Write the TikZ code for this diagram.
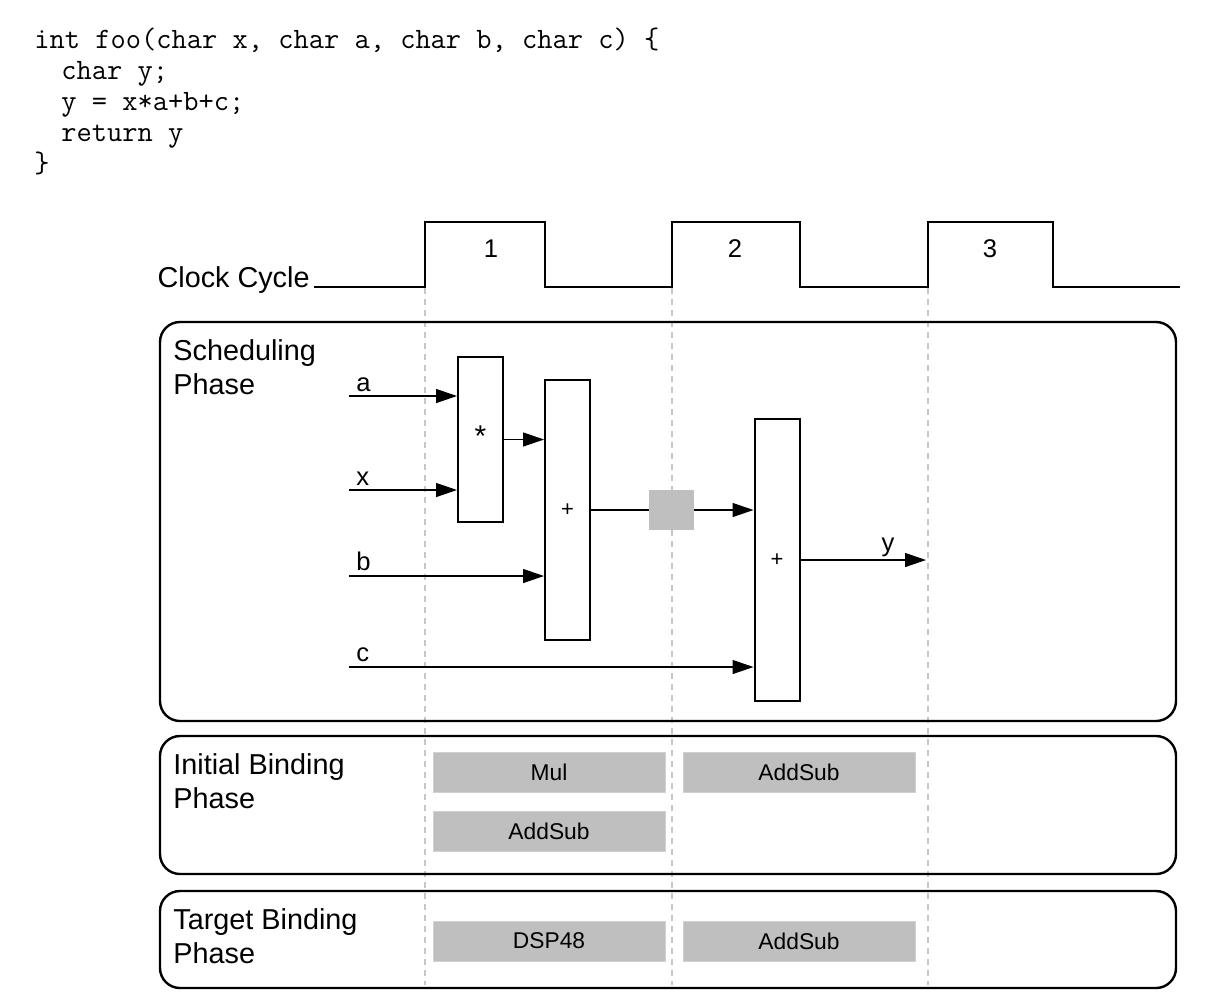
\documentclass[tikz,border=0pt]{standalone}
\usepackage{fontspec}
\setmainfont{Liberation Sans}
\usetikzlibrary{arrows.meta}
\begin{document}
\begin{tikzpicture}[x=0.5pt,y=-0.5pt,
  clk/.style={line width=1pt, line join=miter},
  guide/.style={draw=black!22, line width=0.6pt, dash pattern=on 3pt off 2.5pt},
  frame/.style={draw, line width=1.2pt, rounded corners=10pt, inner sep=0pt},
  opbox/.style={draw, line width=1pt, fill=white, minimum width=22.5pt, inner sep=0pt, font=\fontsize{11}{13}\selectfont},
  regbox/.style={fill=black!25, minimum width=22.5pt, minimum height=20pt, inner sep=0pt},
  resbox/.style={fill=black!25, draw=black!18, line width=0.4pt, minimum width=116pt, minimum height=20pt, inner sep=0pt, font=\fontsize{11.4}{13}\selectfont},
  sig/.style={line width=0.65pt, -{Triangle[length=10.5pt,width=7pt]}},
  lbl/.style={font=\fontsize{12.8}{15}\selectfont, inner sep=0pt},
  phase/.style={anchor=north west, align=left, inner sep=0pt, font=\fontsize{14.4}{17}\selectfont},
  codeline/.style={anchor=base west, inner sep=0pt, font=\ttfamily\fontsize{14.8}{17}\selectfont}
]
\useasboundingbox (0,0) rectangle (1219,992);

% code
\node[codeline] (c1) at (34,48) {int foo(char x, char a, char b, char c) \{};
\node[codeline] (c2) at (61,79) {char y;};
\node[codeline] (c3) at (61,110) {y = x*a+b+c;};
\node[codeline] (c4) at (61,141) {return y};
\node[codeline] (c5) at (34,172) {\}};

% clock
\node[anchor=base east, inner sep=0pt, font=\fontsize{14.4}{17}\selectfont] (ccl) at (310,287) {Clock Cycle};
\coordinate (ck0) at (314,287);
\draw[clk] (ck0) -- (425,287) -- (425,222) -- (545,222) -- (545,287)
  -- (672,287) -- (672,222) -- (800,222) -- (800,287)
  -- (928,287) -- (928,222) -- (1053,222) -- (1053,287) -- (1180,287);
\node[lbl] (n1) at (491,249) {1};
\node[lbl] (n2) at (735,249) {2};
\node[lbl] (n3) at (990,249) {3};

% guides
\foreach \gx in {425,672,928}
  \draw[guide] (\gx,288) -- (\gx,985);

% frames
\node[frame, minimum width=508pt, minimum height=199.5pt] (fs) at (668,521.5) {};
\node[frame, minimum width=508pt, minimum height=69pt] (fi) at (668,805) {};
\node[frame, minimum width=508pt, minimum height=48.5pt] (ft) at (668,939.5) {};
\node[phase] (ps) at (173,339) {Scheduling\\Phase};
\node[phase] (pi) at (173,753) {Initial Binding\\Phase};
\node[phase] (pt) at (173,908) {Target Binding\\Phase};

% scheduling
\node[opbox, minimum height=82.5pt] (mul) at (480.5,439.5) {};
\node[inner sep=0pt, font=\fontsize{15}{17}\selectfont] (mulsym) at (480.5,436) {*};
\node[opbox, minimum height=130pt] (add1) at (567.5,510) {+};
\node[opbox, minimum height=141pt] (add2) at (777,560) {+};
\node[regbox] (reg) at (671.5,510) {};

\coordinate (ain) at (349,396);
\coordinate (xin) at (349,490);
\coordinate (bin) at (349,576);
\coordinate (cin) at (349,667);
\coordinate (yout) at (926,560);
\node[lbl, anchor=base west] (la) at (356,391) {a};
\node[lbl, anchor=base west] (lx) at (356,485) {x};
\node[lbl, anchor=base west] (lb) at (356,570) {b};
\node[lbl, anchor=base west] (lc) at (356,661) {c};
\node[lbl, anchor=base] (ly) at (888,551) {y};

\draw[sig] (ain) -- (ain -| mul.west);
\draw[sig] (xin) -- (xin -| mul.west);
\draw[sig] (mul.east) -- (mul.east -| add1.west);
\draw[sig] (bin) -- (bin -| add1.west);
\draw[line width=0.65pt] (add1.east) -- (reg.west);
\draw[sig] (reg.east) -- (reg.east -| add2.west);
\draw[sig] (cin) -- (cin -| add2.west);
\draw[sig] (add2.east) -- (yout);

% binding
\node[resbox] (r1) at (549,772) {Mul};
\node[resbox] (r2) at (799,772) {AddSub};
\node[resbox] (r3) at (549,831) {AddSub};
\node[resbox] (r4) at (549,941) {DSP48};
\node[resbox] (r5) at (799,941) {AddSub};
\end{tikzpicture}
\end{document}
